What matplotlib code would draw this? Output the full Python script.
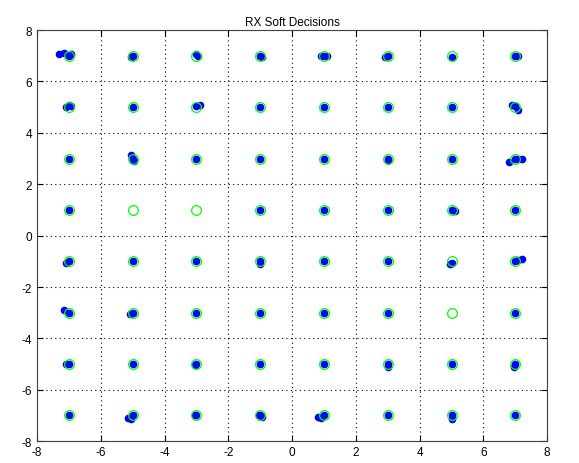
import matplotlib
matplotlib.use("Agg")
import matplotlib.pyplot as plt

plt.rcParams['font.family'] = ['Liberation Sans', 'DejaVu Sans']
plt.rcParams['axes.unicode_minus'] = False

# 64-QAM reference levels (transmitted symbols)
levels = [-7, -5, -3, -1, 1, 3, 5, 7]
tx_i = [i for q in levels for i in levels]
tx_q = [q for q in levels for i in levels]

# received soft decisions, row by row from the top
rx_i = [
    -7.3, -7.15, -7.0, -6.95, -5.0, -5.05, -3.0, -2.95, -0.95, -1.0,
    1.0, 0.9, 1.1, 3.0, 2.9, 5.0, 7.0, 7.1,
    -7.0, -7.1, -6.95, -5.0, -3.0, -2.9, -1.0, 1.0, 3.0, 5.0, 7.0, 6.9, 7.1,
    -7.0, -5.0, -5.05, -4.95, -3.0, -1.0, 1.0, 3.0, 3.0, 5.0, 7.0, 6.8, 7.1, 7.2,
    -7.0, -1.0, 1.0, 3.0, 5.0, 5.1, 7.0,
    -7.0, -7.1, -5.0, -3.0, -1.0, -1.0, 1.0, 3.0, 5.0, 4.95, 7.0, 7.2, 7.1,
    -7.0, -7.15, -5.0, -5.1, -3.0, -1.0, 1.0, 3.0, 7.0,
    -7.0, -7.1, -5.0, -3.0, -3.05, -1.0, 1.0, 3.0, 3.0, 5.0, 7.0, 6.95,
    -7.0, -5.0, -5.15, -5.05, -3.0, -3.05, -1.0, -1.05, -0.95,
    1.0, 0.8, 0.9, 3.0, 5.0, 5.0, 7.0,
]
rx_q = [
    7.05, 7.1, 7.0, 7.05, 7.0, 6.95, 7.05, 7.0, 6.95, 7.0,
    7.0, 7.0, 7.0, 7.0, 6.95, 6.95, 7.0, 7.0,
    5.1, 5.0, 5.05, 5.0, 5.05, 5.1, 5.0, 5.0, 5.0, 5.0, 5.05, 5.1, 4.9,
    3.0, 3.0, 3.15, 2.9, 3.0, 3.0, 3.0, 3.0, 2.95, 3.0, 3.0, 2.85, 3.0, 3.0,
    1.0, 1.0, 1.0, 1.0, 1.0, 0.95, 1.0,
    -1.0, -1.05, -1.0, -1.0, -1.0, -1.1, -1.0, -1.0, -1.05, -1.1, -1.0, -0.9, -0.95,
    -3.0, -2.9, -3.0, -3.05, -3.0, -3.0, -3.0, -3.0, -3.0,
    -5.0, -5.0, -5.0, -5.0, -5.05, -5.0, -5.0, -5.0, -5.1, -5.0, -5.0, -5.1,
    -7.0, -7.0, -7.1, -7.15, -7.0, -7.0, -7.0, -7.0, -7.05,
    -7.0, -7.05, -7.1, -7.0, -7.0, -7.15, -7.0,
]

fig = plt.figure(figsize=(5.79, 4.64), dpi=100)
ax = fig.add_axes([0.064, 0.047, 0.881, 0.886])

ax.plot(rx_i, rx_q, 'o', color='blue', markersize=5.5, markeredgewidth=0)
ax.plot(tx_i, tx_q, 'o', color=(0, 1, 0), markerfacecolor='none',
        markersize=7, markeredgewidth=0.9)

ax.set_xlim(-8, 8)
ax.set_ylim(-8, 8)
ax.set_xticks(range(-8, 9, 2))
ax.set_yticks(range(-8, 9, 2))
ax.grid(True, color='black', linestyle=(0, (1, 3)), linewidth=0.8)
ax.tick_params(direction='in', top=True, right=True, labelsize=8.5, length=4)
for s in ax.spines.values():
    s.set_linewidth(0.8)
    s.set_color('#404040')
ax.set_title('RX Soft Decisions', fontsize=8.5, pad=4)

fig.savefig('out.png', dpi=100)
